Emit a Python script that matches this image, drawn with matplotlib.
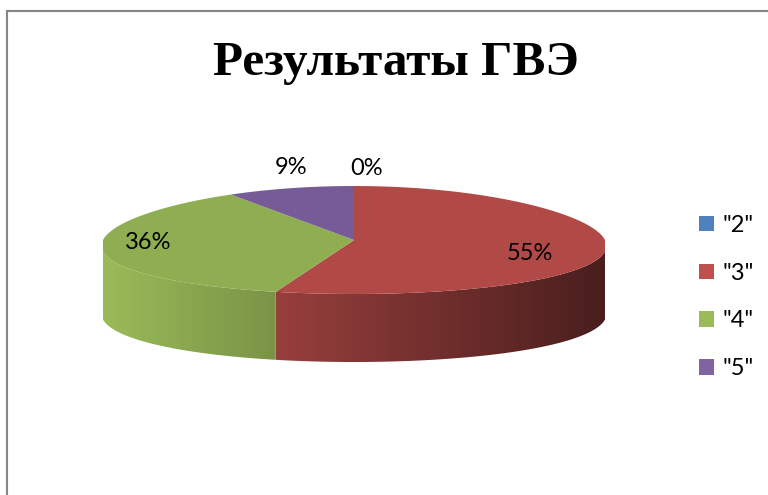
import numpy as np
import matplotlib.pyplot as plt
from matplotlib.patches import Polygon, Rectangle
from matplotlib.colors import LinearSegmentedColormap, to_rgb

# data
labels = ['"2"', '"3"', '"4"', '"5"']
counts = [0, 6, 4, 1]
base_colors = ['#4F81BD', '#C0504D', '#9BBB59', '#8064A2']
top_colors = ['#4A78B0', '#B14A47', '#8FAE52', '#775B96']
title = 'Результаты ГВЭ'

W, H = 768, 495
fig = plt.figure(figsize=(W / 100, H / 100), dpi=100)

# chart frame (cut off on the right and bottom)
fig.patches.append(Rectangle((7 / W, -0.1), 1.2, 1 - 11 / H + 0.1,
                             transform=fig.transFigure, fill=False,
                             edgecolor='#868686', linewidth=1.5))

fig.text(396 / W, 1 - 63 / H, title, ha='center', va='center',
         family='Liberation Serif', weight='bold', fontsize=35.5)

# pie geometry in pixels: semi axes a, b, wall depth
a, b, depth = 251, 54, 68
cx, cy = 354, 240
persp = 0.11
d = depth / b
ylo, yhi = -1 - d - 0.2, 1.25
ax = fig.add_axes([(cx - a) / W, (H - cy + ylo * b) / H,
                   2 * a / W, (yhi - ylo) * b / H])
ax.axis('off')

total = sum(counts)
fracs = [c / total for c in counts]

# Excel style: start at 12 o'clock, clockwise
start = 90.0
spans = []
for f in fracs:
    end = start - 360 * f
    spans.append((end, start))
    start = end


def rim(t):
    # simple perspective: near side a bit wider than far side
    return np.cos(t) * (1 - persp * np.sin(t)), np.sin(t)


def shade(col, x):
    r = np.array(to_rgb(col))
    k = 1.0 - 0.31 * (x + 1)
    return np.clip(r * k, 0, 1)


# side walls (front half: angles 180..360)
for (t0, t1), col, f in zip(spans, base_colors, fracs):
    if f == 0:
        continue
    for off in (0, 360, -360):
        lo = max(t0 + off, 180)
        hi = min(t1 + off, 360)
        if hi <= lo:
            continue
        t = np.radians(np.linspace(lo, hi, 120))
        xs, ys = rim(t)
        pts = np.concatenate([np.column_stack([xs, ys]),
                              np.column_stack([xs[::-1], ys[::-1] - d])])
        poly = Polygon(pts, closed=True, facecolor='none', edgecolor='none')
        ax.add_patch(poly)
        x0, x1 = xs.min(), xs.max()
        cmap = LinearSegmentedColormap.from_list(
            'w', [shade(col, x0), shade(col, x1)])
        grad = np.linspace(0, 1, 256).reshape(1, -1)
        im = ax.imshow(grad, cmap=cmap, aspect='auto',
                       extent=[x0, x1, ys.min() - d, ys.max()],
                       interpolation='bilinear', zorder=1)
        im.set_clip_path(poly)

# top face
for (t0, t1), col, f in zip(spans, top_colors, fracs):
    if f == 0:
        continue
    t = np.radians(np.linspace(t0, t1, 200))
    xs, ys = rim(t)
    pts = np.vstack([[0, 0], np.column_stack([xs, ys])])
    ax.add_patch(Polygon(pts, closed=True, facecolor=col,
                         edgecolor='none', zorder=2))

ax.set_xlim(-1, 1)
ax.set_ylim(ylo, yhi)

# percentage labels
lab_pos = {0: (0.05, 1.33), 1: (0.70, -0.25), 2: (-0.82, -0.05), 3: (-0.25, 1.35)}
for i, f in enumerate(fracs):
    lx, ly = lab_pos[i]
    ax.text(lx, ly, '{:.0%}'.format(f), ha='center', va='center',
            family='Lato', fontsize=17, zorder=5, clip_on=False)

handles = [Rectangle((0, 0), 1, 1, facecolor=c, edgecolor='none')
           for c in base_colors]
fig.legend(handles, labels, loc='center left',
           bbox_to_anchor=(699 / W, 1 - 297 / H), frameon=False,
           prop={'family': 'Lato', 'size': 17}, borderpad=0, borderaxespad=0,
           handlelength=0.63, handleheight=0.63, handletextpad=0.35,
           labelspacing=1.14)

fig.savefig('out.png', dpi=100)
